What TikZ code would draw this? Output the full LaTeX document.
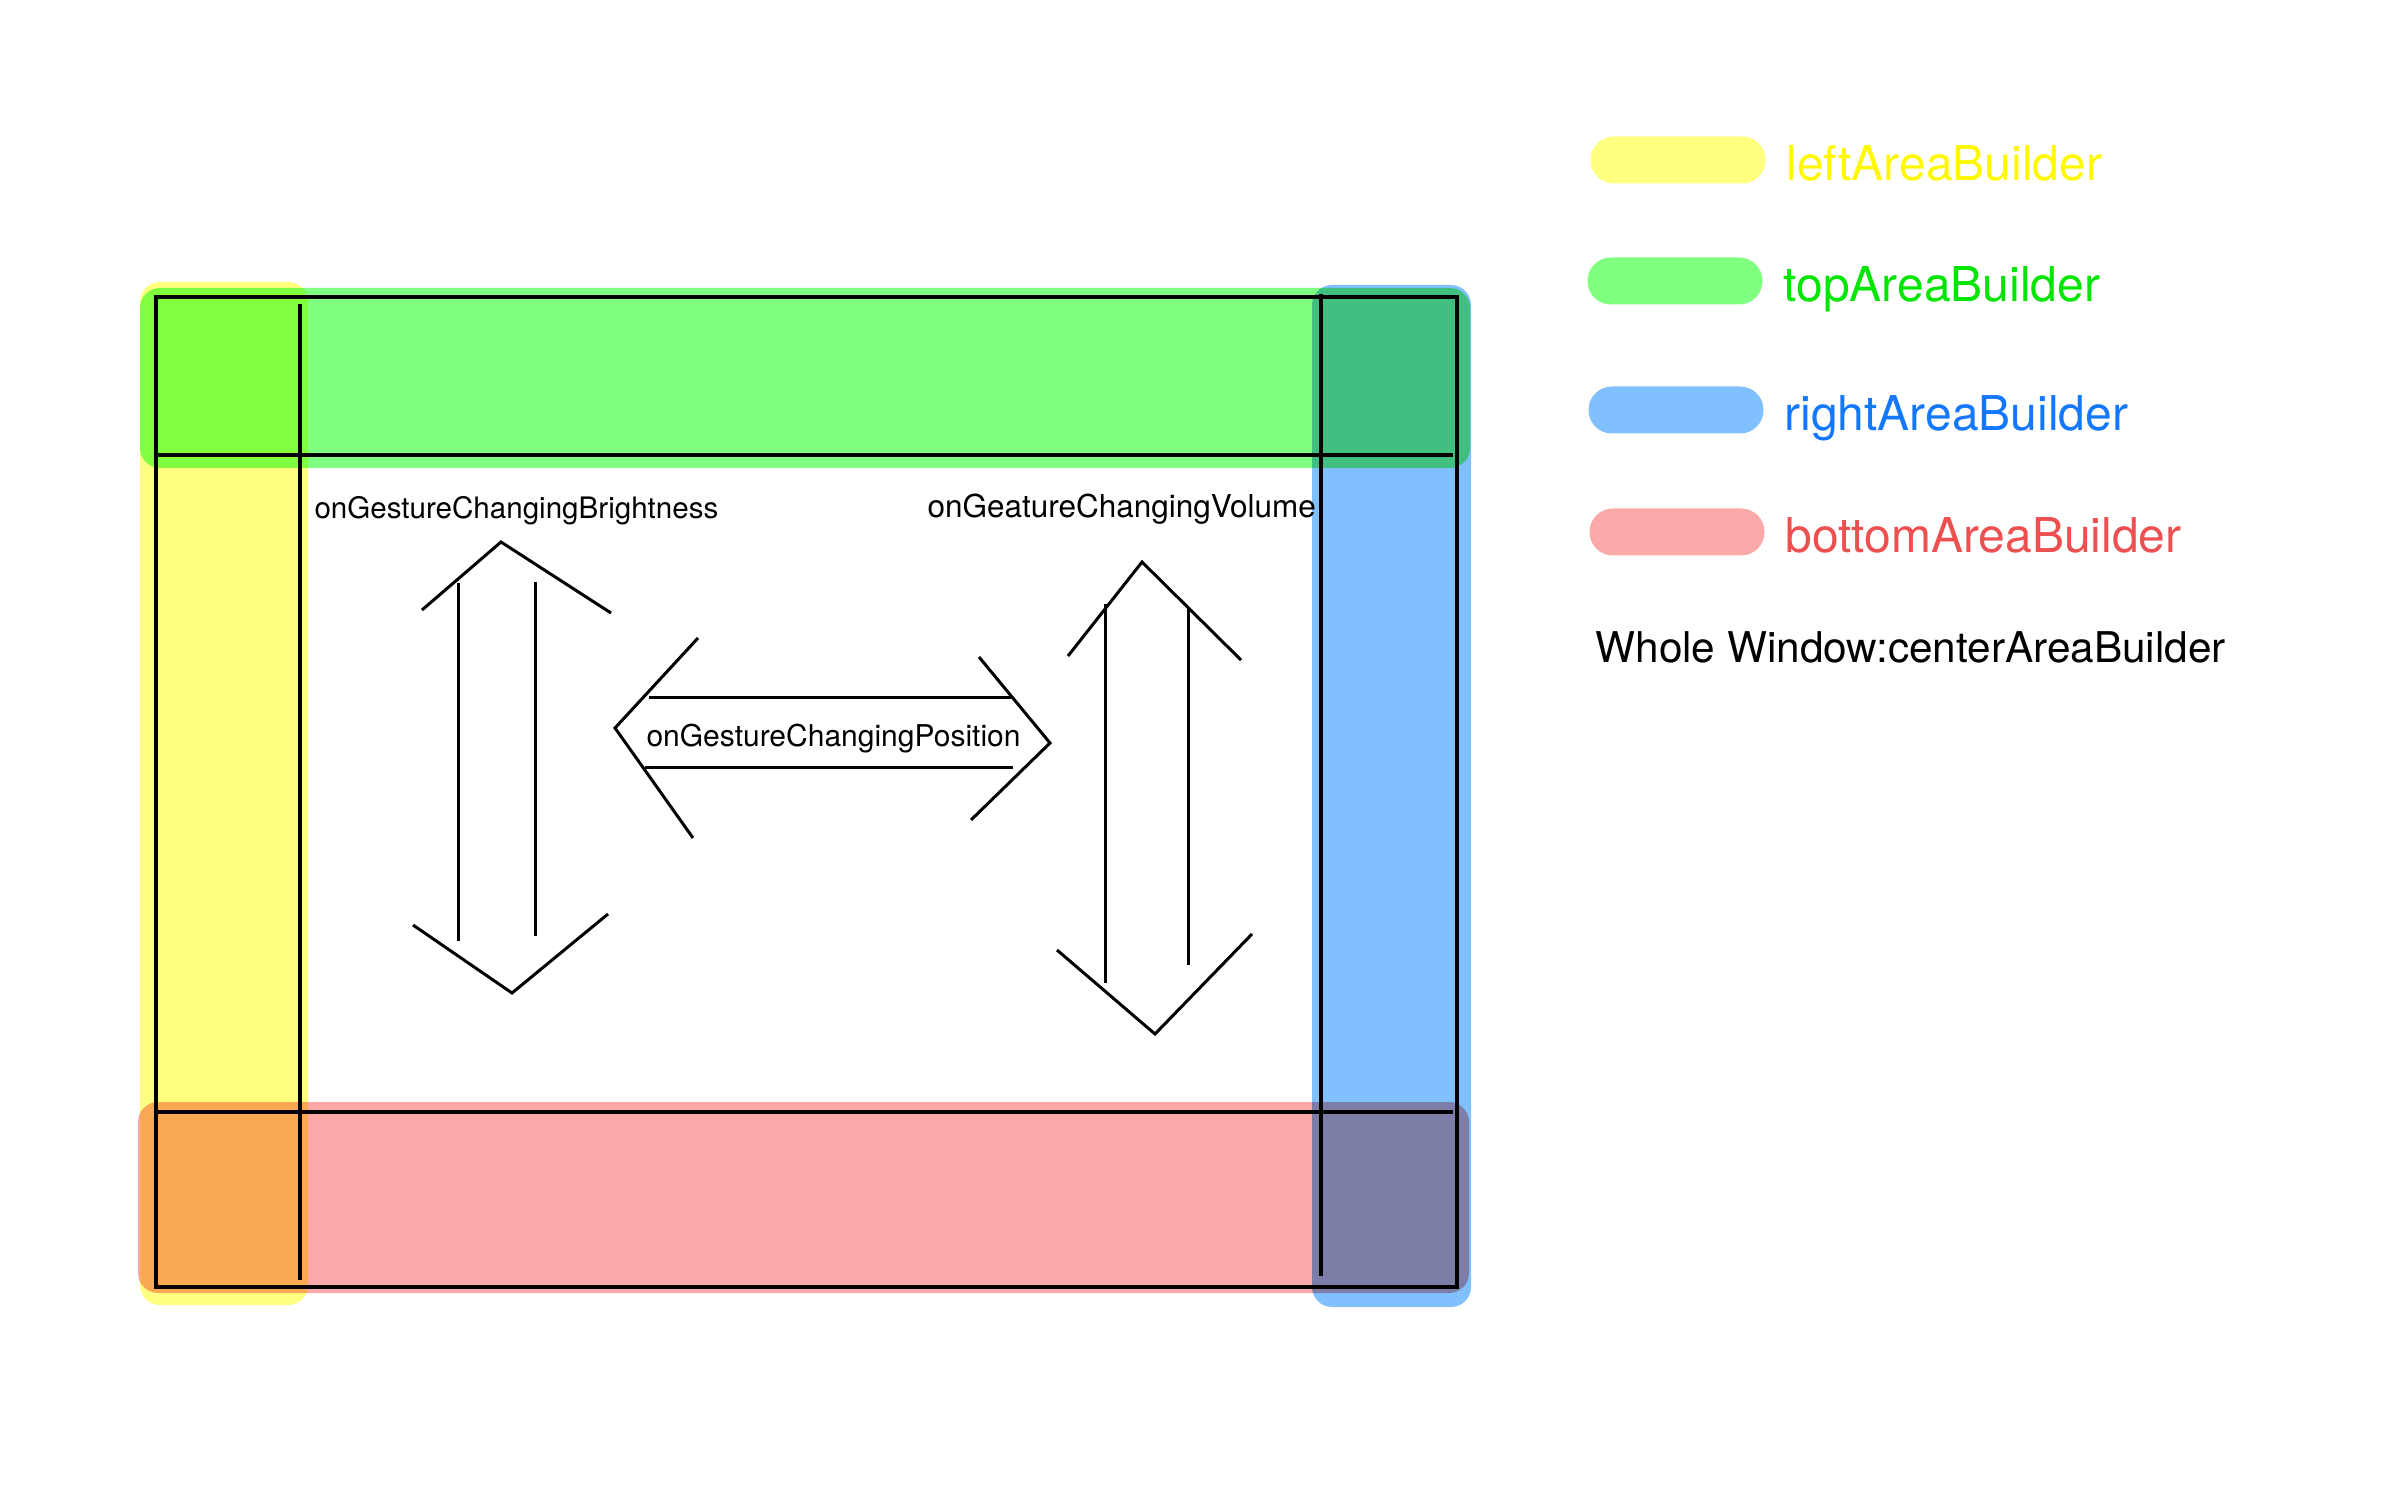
\documentclass[tikz,border=0pt]{standalone}
\usepackage{fontspec}
\setmainfont{TeX Gyre Heros}
\usepackage{tikz}
\usetikzlibrary{positioning}

\definecolor{hlYellow}{RGB}{255,255,128}
\definecolor{hlGreen}{RGB}{128,255,128}
\definecolor{hlBlue}{RGB}{128,192,255}
\definecolor{hlRed}{RGB}{250,168,168}
\definecolor{txYellow}{RGB}{255,248,0}
\definecolor{txGreen}{RGB}{0,230,0}
\definecolor{txBlue}{RGB}{20,120,255}
\definecolor{txRed}{RGB}{236,80,80}

\begin{document}
\begin{tikzpicture}[x=0.3pt,y=-0.3pt,line width=0.9pt,
  band/.style={rounded corners=6pt, blend mode=multiply},
  frame/.style={line width=1pt},
  pill/.style={minimum width=52.5pt, minimum height=14.1pt, rounded corners=7pt, inner sep=0pt},
  legtext/.style={inner sep=0pt, text height=12.1pt, text depth=0pt, font=\fontsize{14.4}{16}\selectfont},
  gesture/.style={anchor=base west, inner sep=0pt, font=\fontsize{9}{11}\selectfont}]

\useasboundingbox (0,0) rectangle (2386,1491);

% highlighter bands
\fill[band, hlYellow] (140,282) rectangle (308,1305);
\fill[band, hlGreen] (140,288) rectangle (1470,468);
\fill[band, hlBlue] (1312,285) rectangle (1471,1307);
\fill[band, hlRed] (138,1102) rectangle (1469,1293);

% window frame
\draw[frame] (156,297) rectangle (1457,1287);
\draw[frame] (300,304) -- (300,1280)
             (1321,294) -- (1321,1276)
             (156,455) -- (1453,455)
             (156,1112) -- (1453,1112);

% brightness
\draw (422,610) -- (501,542) -- (611,613);
\draw (458,583) -- (458,941);
\draw (535,582) -- (535,936);
\draw (413,925) -- (512,993) -- (608,914);

% position
\draw (698,638) -- (615,728) -- (693,838);
\draw (649,697) -- (1011,697);
\draw (645,767) -- (1013,767);
\draw (979,657) -- (1050,743) -- (971,820);

% volume
\draw (1068,656) -- (1142,562) -- (1241,660);
\draw (1105,604) -- (1105,983);
\draw (1188,608) -- (1188,965);
\draw (1057,950) -- (1155,1034) -- (1252,934);

\node[gesture, font=\fontsize{8.87}{11}\selectfont] (brightLbl) at (313,519) {onGestureChangingBrightness};
\node[gesture, font=\fontsize{9.45}{11}\selectfont] (volumeLbl) at (926,518) {onGeatureChangingVolume};
\node[gesture] (positionLbl) at (645,746) {onGestureChangingPosition};

% legend
\node[pill, fill=hlYellow] (leftPill) at (1678,160) {};
\node[legtext, text=txYellow, right=5.4pt of leftPill] (leftTxt) {leftAreaBuilder};
\node[pill, fill=hlGreen] (topPill) at (1675,281) {};
\node[legtext, text=txGreen, right=5.4pt of topPill] (topTxt) {topAreaBuilder};
\node[pill, fill=hlBlue] (rightPill) at (1676,410) {};
\node[legtext, text=txBlue, right=5.4pt of rightPill] (rightTxt) {rightAreaBuilder};
\node[pill, fill=hlRed] (bottomPill) at (1677,532) {};
\node[legtext, text=txRed, right=5.4pt of bottomPill] (bottomTxt) {bottomAreaBuilder};
\node[anchor=base west, inner sep=0pt, font=\fontsize{12.7}{15}\selectfont] (centerTxt) at (1594,662) {Whole Window:centerAreaBuilder};

\end{tikzpicture}
\end{document}
